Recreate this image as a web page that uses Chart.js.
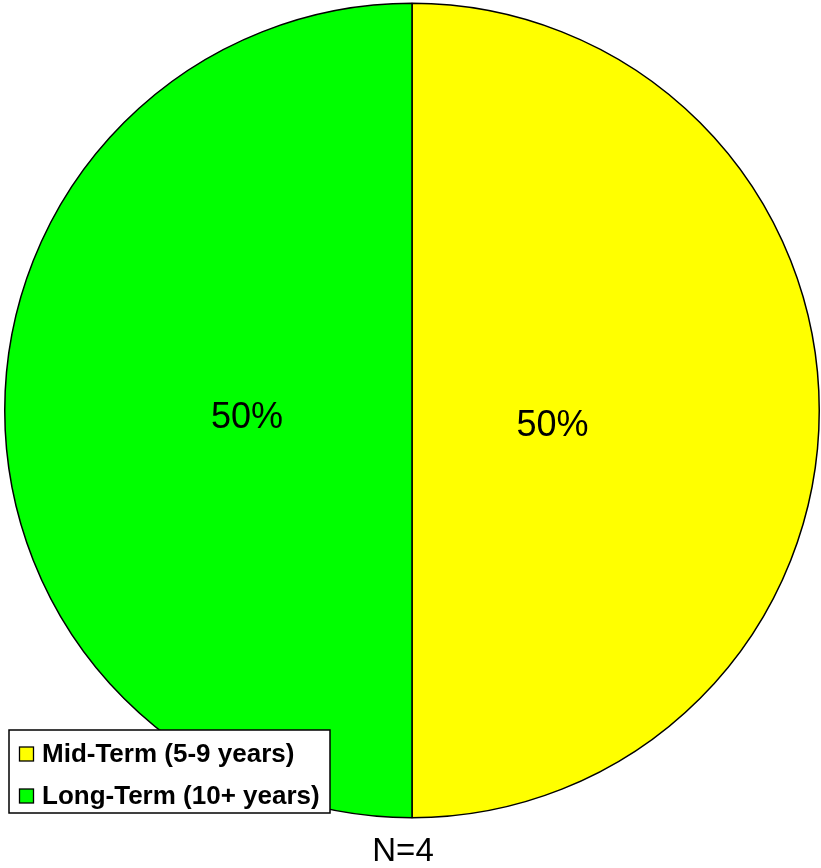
<!DOCTYPE html>
<html>
<head>
<meta charset="utf-8">
<script src="https://cdn.jsdelivr.net/npm/chart.js@4/dist/chart.umd.min.js"></script>
<style>
  html, body { margin: 0; padding: 0; background: #fff; }
  #wrap { width: 821px; height: 868px; position: relative; }
</style>
</head>
<body>
<div id="wrap"><canvas id="my-chart" width="821" height="868"></canvas></div>
<script>
const categories = ['Mid-Term (5-9 years)', 'Long-Term (10+ years)'];
const shares = [50, 50];
const colors = ['#ffff00', '#00ff00'];
const sampleNote = 'N=4';

// percent labels inside slices
const sliceLabels = {
  id: 'sliceLabels',
  afterDatasetsDraw(chart) {
    const ctx = chart.ctx;
    const meta = chart.getDatasetMeta(0);
    const total = shares.reduce((a, b) => a + b, 0);
    ctx.save();
    ctx.font = '36px "Liberation Sans", Arial, sans-serif';
    ctx.fillStyle = '#000';
    ctx.textAlign = 'center';
    ctx.textBaseline = 'middle';
    meta.data.forEach((arc, i) => {
      const p = arc.getProps(['x', 'y', 'startAngle', 'endAngle', 'outerRadius']);
      const mid = (p.startAngle + p.endAngle) / 2;
      const r = p.outerRadius * (i === 0 ? 0.345 : 0.405);
      const x = p.x + Math.cos(mid) * r;
      const y = p.y + Math.sin(mid) * r + (i === 0 ? 16 : 8);
      ctx.fillText(Math.round(shares[i] / total * 100) + '%', x, y);
    });
    ctx.restore();
  }
};

// boxed legend in lower left + N note
const boxLegend = {
  id: 'boxLegend',
  afterDraw(chart) {
    const ctx = chart.ctx;
    ctx.save();
    ctx.fillStyle = '#fff';
    ctx.fillRect(9, 730, 321, 83);
    ctx.strokeStyle = '#000';
    ctx.lineWidth = 1.5;
    ctx.strokeRect(9, 730, 321, 83);
    ctx.font = 'bold 26px "Liberation Sans", Arial, sans-serif';
    ctx.textBaseline = 'middle';
    categories.forEach((c, i) => {
      const y = 754 + i * 42;
      ctx.fillStyle = colors[i];
      ctx.fillRect(19.5, y - 7, 14, 14);
      ctx.lineWidth = 1.3;
      ctx.strokeRect(19.5, y - 7, 14, 14);
      ctx.fillStyle = '#000';
      ctx.fillText(c, 42, y + 1);
    });
    ctx.font = '33px "Liberation Sans", Arial, sans-serif';
    ctx.textAlign = 'center';
    ctx.textBaseline = 'alphabetic';
    ctx.fillText(sampleNote, 403, 861);
    ctx.restore();
  }
};

const chart = new Chart(document.getElementById('my-chart'), {
  type: 'pie',
  data: {
    labels: categories,
    datasets: [{
      data: shares,
      backgroundColor: colors,
      borderColor: '#000',
      borderWidth: 1.5
    }]
  },
  options: {
    responsive: false,
    animation: false,
    layout: { padding: { left: 4, right: 1, top: 2, bottom: 49 } },
    plugins: {
      legend: { display: false },
      tooltip: { enabled: false }
    }
  },
  plugins: [sliceLabels, boxLegend]
});
</script>
</body>
</html>
